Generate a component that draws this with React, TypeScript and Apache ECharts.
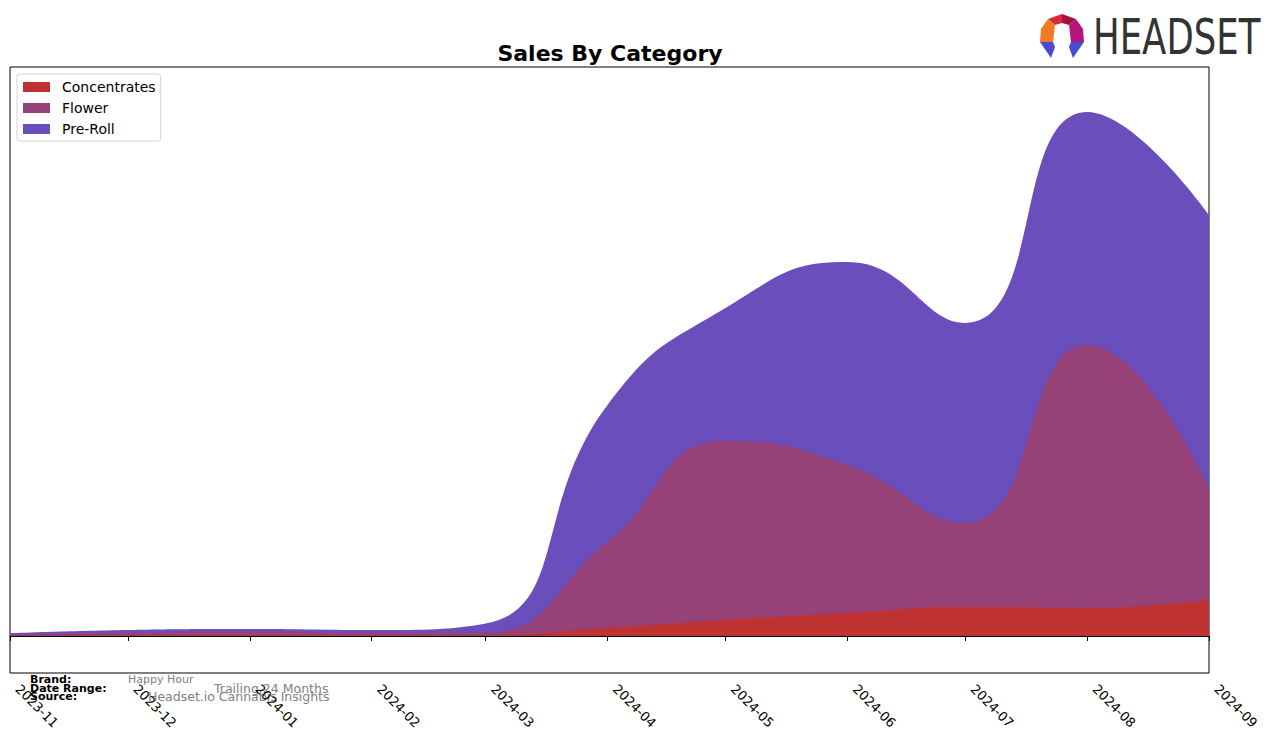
import React, { useEffect, useRef } from 'react';
import * as echarts from 'echarts';

const months = ['2023-11', '2023-12', '2024-01', '2024-02', '2024-03', '2024-04', '2024-05', '2024-06', '2024-07', '2024-08', '2024-09'];
const concentrates = [30, 100, 100, 100, 50, 800, 1600, 2300, 2900, 2800, 3600];
const flower = [100, 200, 300, 200, 300, 8600, 17900, 14800, 8400, 26300, 11200];
const preRoll = [150, 300, 300, 300, 900, 13700, 13300, 20300, 20000, 23300, 27300];
const seriesNames = ['Concentrates', 'Flower', 'Pre-Roll'];
const seriesColors = ['#C03232', '#964178', '#6A4EBC'];
const footerLabels = ['Brand:', 'Date Range:', 'Source:'];
const footerValues = ['Happy Hour', 'Trailing 24 Months', 'Headset.io Cannabis Insights'];
const chartTitle = 'Sales By Category';
const logoText = 'HEADSET';

const toTs = (m: string) => {
  const [y, mo] = m.split('-').map(Number);
  return Date.UTC(y, mo - 1, 1);
};
const fmt = (v: number) => {
  const d = new Date(v);
  return `${d.getUTCFullYear()}-${String(d.getUTCMonth() + 1).padStart(2, '0')}`;
};

export default function App() {
  const ref = useRef<HTMLDivElement>(null);
  useEffect(() => {
    if (!ref.current) return;
    const chart = echarts.init(ref.current, null, { renderer: 'svg' });
    const ticks = months.map(toTs);
    const seriesData = [concentrates, flower, preRoll];
    // stacked (cumulative) totals, drawn as overlapping areas from the top layer down
    const cumulative = seriesData.map((_, i) =>
      months.map((_, j) => seriesData.slice(0, i + 1).reduce((s, arr) => s + arr[j], 0))
    );
    const font = 'DejaVu Sans';
    const lx = 1038, ly = 13;
    const poly = (pts: number[][], color: string) => ({
      type: 'polygon',
      shape: { points: pts.map(([a, b]) => [lx + a, ly + b]) },
      style: { fill: color },
      silent: true,
    });
    chart.setOption({
      animation: false,
      backgroundColor: '#ffffff',
      grid: {
        left: 10, right: 67, top: 67, bottom: 70,
        show: true, borderColor: '#000', borderWidth: 1, backgroundColor: 'transparent',
      },
      legend: {
        orient: 'vertical', left: 17, top: 74,
        padding: [6, 5, 5, 6],
        itemWidth: 27, itemHeight: 10, itemGap: 7,
        icon: 'rect',
        backgroundColor: '#fff', borderColor: '#d5d5d5', borderWidth: 1, borderRadius: 3,
        textStyle: { fontFamily: font, fontSize: 14, color: '#000', lineHeight: 14, padding: [0, 0, 0, 7] },
        data: seriesNames,
      },
      xAxis: {
        type: 'value',
        min: ticks[0], max: ticks[ticks.length - 1],
        axisLine: { show: true, lineStyle: { color: '#000', width: 1 } },
        axisTick: { show: true, length: 5, customValues: ticks, lineStyle: { color: '#000' } },
        axisLabel: {
          customValues: ticks, rotate: -45, formatter: (v: number) => fmt(v),
          fontFamily: font, fontSize: 13, color: '#000', margin: 6, padding: [0, 0, 0, 11],
        },
        splitLine: { show: false },
      },
      yAxis: { type: 'value', min: -3700, max: 56900, show: false, splitLine: { show: false } },
      series: seriesNames.map((name, i) => ({
        name, type: 'line', smooth: true, symbol: 'none', z: 10 - i,
        lineStyle: { width: 0 }, itemStyle: { color: seriesColors[i] },
        areaStyle: { color: seriesColors[i], opacity: 1, origin: 0 },
        data: months.map((m, j) => [toTs(m), cumulative[i][j]]),
      })),
      graphic: [
        {
          type: 'text', x: 610, y: 53,
          style: { text: chartTitle, font: `bold 22px "${font}"`, fill: '#000', textAlign: 'center', textVerticalAlign: 'middle' },
        },
        ...footerLabels.map((t, i) => ({
          type: 'text', x: 30, y: 679 + [0, 9, 17][i],
          style: { text: t, font: `bold 11px "${font}"`, fill: '#000', textAlign: 'left', textVerticalAlign: 'middle' },
        })),
        ...footerValues.map((t, i) => ({
          type: 'text', x: [128, 214, 148][i], y: [679, 688, 696][i],
          style: { text: t, font: `${[11, 12.5, 12.5][i]}px "${font}"`, fill: '#808080', textAlign: 'left', textVerticalAlign: 'middle' },
        })),
        {
          type: 'text', x: 1093, y: 37, scaleX: 0.71,
          style: { text: logoText, font: `50px "${font}"`, fill: '#333333', textAlign: 'left', textVerticalAlign: 'middle' },
        },
        poly([[10, 6], [24, 1], [24, 10], [17, 12]], '#D42A3C'),
        poly([[24, 1], [38, 6], [31, 12], [24, 10]], '#A3133B'),
        poly([[10, 6], [17, 12], [15, 29], [2, 29], [3, 16]], '#F37A25'),
        poly([[38, 6], [45, 16], [46, 29], [33, 29], [31, 12]], '#B5157F'),
        poly([[2, 29], [15, 29], [17, 34], [13, 45]], '#4B4BCF'),
        poly([[46, 29], [33, 29], [31, 34], [35, 45]], '#4B4BCF'),
      ],
    });
    return () => chart.dispose();
  }, []);
  return <div ref={ref} style={{ position: 'fixed', left: 0, top: 0, width: 1276, height: 743 }} />;
}
